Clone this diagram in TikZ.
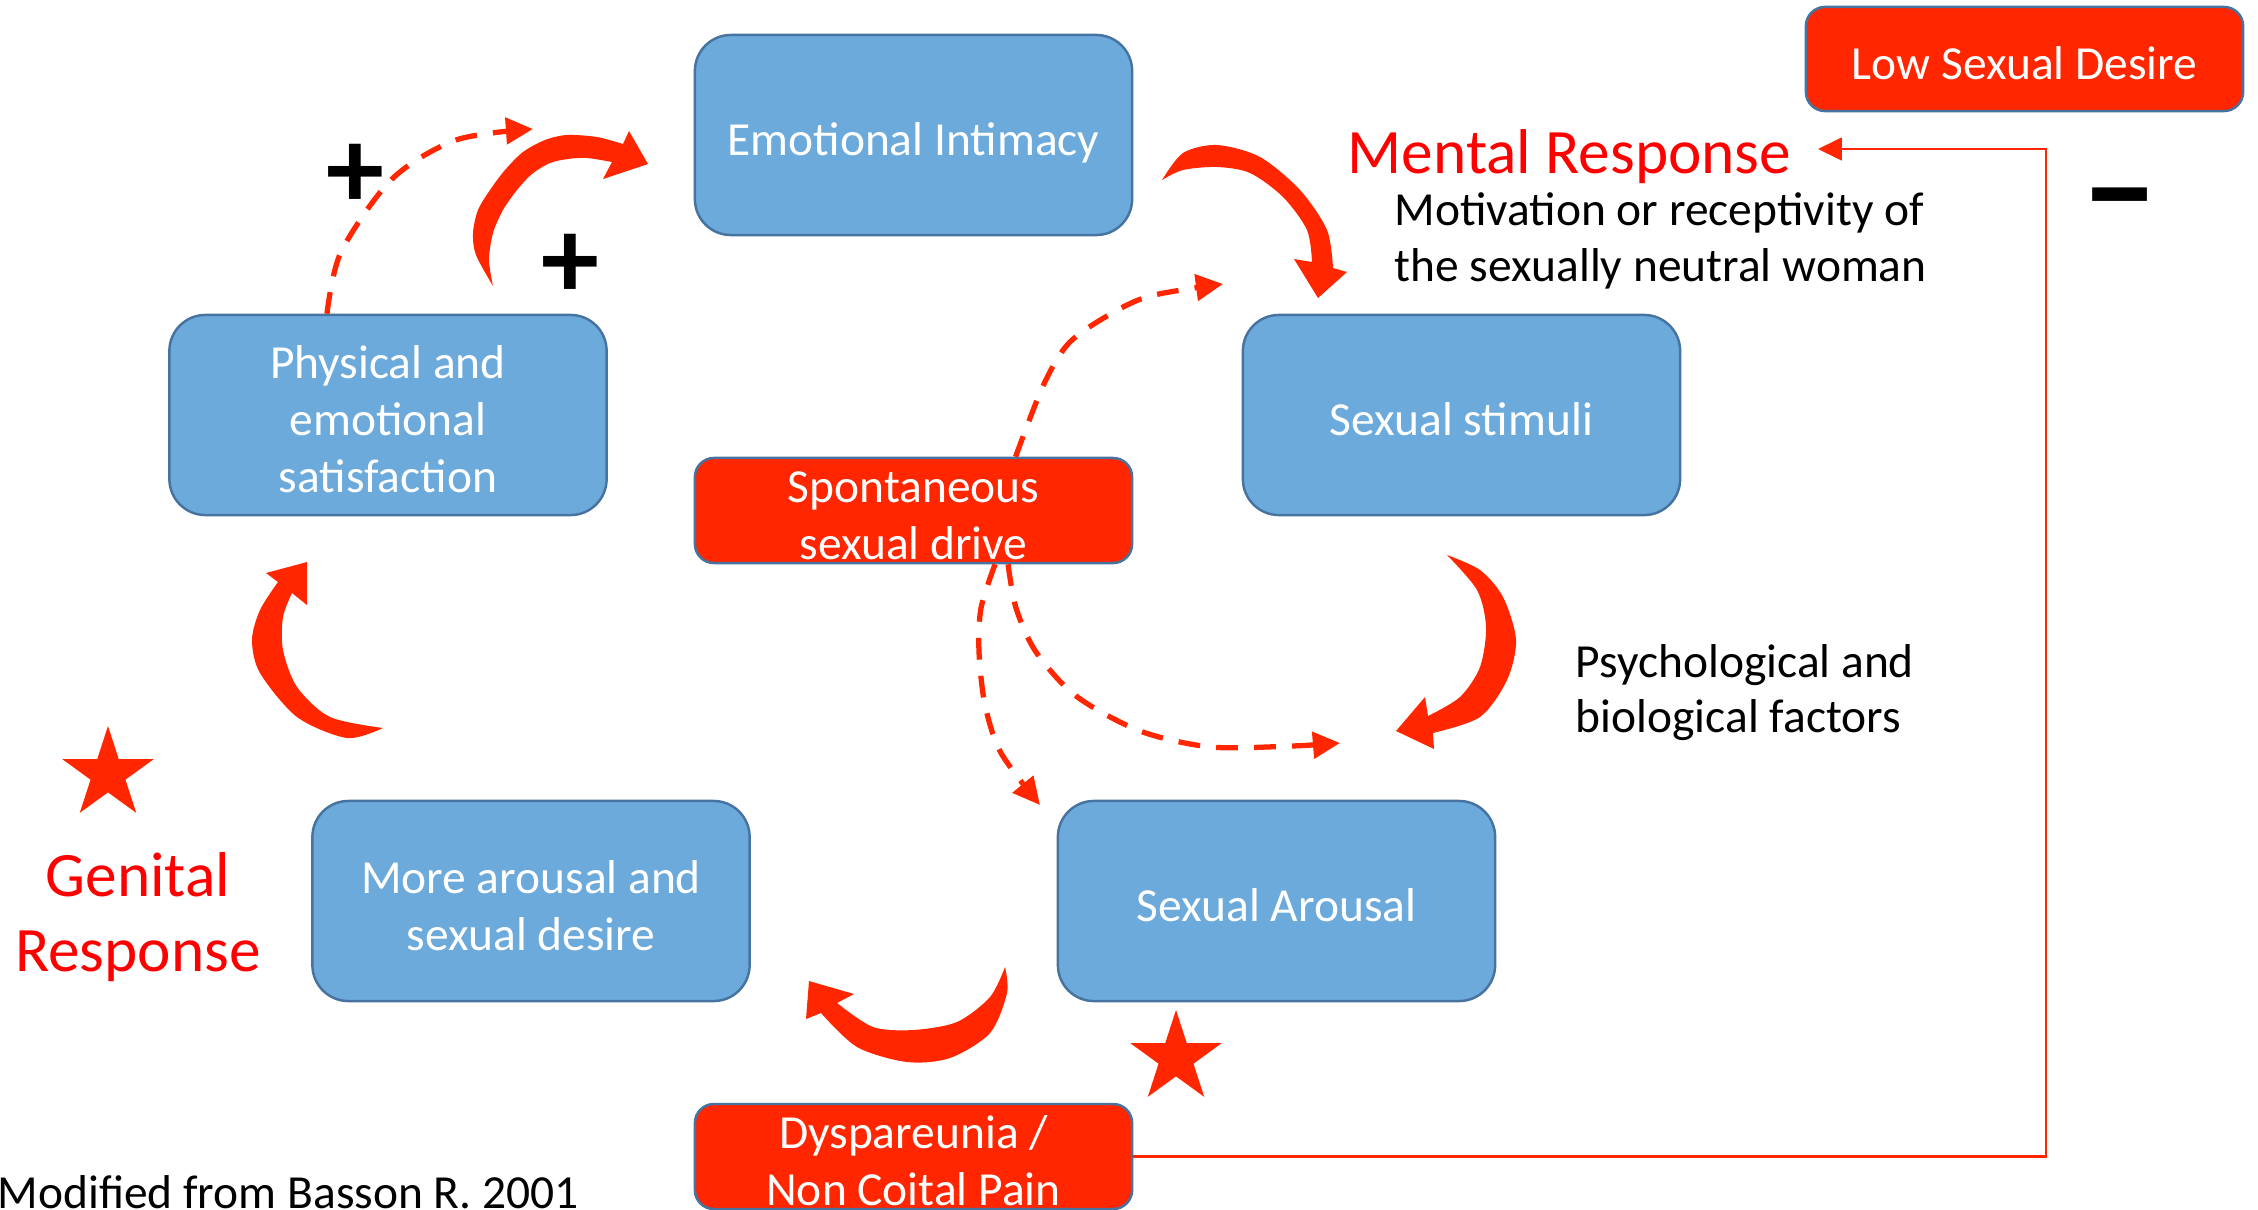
\documentclass[tikz,border=0pt]{standalone}
\usepackage{fontspec}
\setmainfont{Carlito}
\usetikzlibrary{arrows.meta,shapes.geometric}
\definecolor{boxblue}{RGB}{108,170,220}
\definecolor{boxedge}{RGB}{70,115,160}
\definecolor{arrred}{RGB}{255,38,0}
\definecolor{txtred}{RGB}{255,0,0}
\newcommand\mystrut{\rule[-2.1pt]{0pt}{16pt}}
\begin{document}
\begin{tikzpicture}[x=0.01cm,y=-0.01cm,
  bluebox/.style={draw=boxedge,line width=0.7pt,fill=boxblue,rounded corners=0.36cm,
    minimum width=4.37cm,minimum height=2cm,text=white,align=center,
    font=\fontsize{13.5}{16.2}\selectfont,inner sep=0pt},
  redbox/.style={bluebox,fill=arrred,rounded corners=0.19cm,minimum height=1.05cm},
  boxlabel/.style={text=white,align=center,font=\fontsize{13.5}{16.2}\selectfont,inner sep=0pt},
  bigarrow/.style={fill=arrred},
  dasharrow/.style={draw=arrred,line width=1.5pt,dash pattern=on 6.2pt off 4.6pt,
    -{Triangle[length=7.7pt,width=7.4pt]}},
  thinarrow/.style={draw=arrred,line width=0.6pt,-{Triangle[length=6.8pt,width=6.5pt]}},
  plaintext/.style={inner sep=0pt,font=\fontsize{13.5}{15.7}\selectfont},
  redtext/.style={inner sep=0pt,text=txtred,font=\fontsize{18}{21.3}\selectfont},
  sign/.style={inner sep=0pt,font=\fontsize{33}{33}\selectfont\bfseries},
  redstar/.style={star,star points=5,star point ratio=2.618,fill=arrred,inner sep=0pt,minimum size=0.96cm}
]
\useasboundingbox (0,0) rectangle (2258,1209);

% boxes
\node[bluebox] (emo)  at (913.5,135)  {\mystrut Emotional Intimacy};
\node[bluebox] (stim) at (1461.5,415) {\mystrut Sexual stimuli};
\node[bluebox] (arou) at (1276.5,901) {\mystrut Sexual Arousal};
\node[bluebox] (more) at (531,901)    {\mystrut More arousal and\\sexual desire\mystrut};
\node[bluebox] (phys) at (388,415)    {\mystrut Physical and\\emotional\\satisfaction\mystrut};
\node[redbox,label={[boxlabel]center:{\mystrut Spontaneous\\sexual drive\mystrut}}] (spon) at (913.5,510.5) {};
\node[redbox,label={[boxlabel]center:{\mystrut Dyspareunia /\\Non Coital Pain\mystrut}}] (dysp) at (913.5,1156.5) {};
\node[redbox,minimum height=1.04cm] (low) at (2024.5,59) {\mystrut Low Sexual Desire};

% texts
\node[redtext,anchor=base west] (mental) at (1347,173.5) {Mental Response};
\node[plaintext,anchor=base west,align=left] (motiv) at (1394,281) {Motivation or receptivity of\\the sexually neutral woman};
\node[plaintext,anchor=base west,align=left] (psych) at (1575,732.5) {Psychological and\\biological factors};
\node[redtext,anchor=base,align=center] (genital) at (138,971.5) {Genital\\Response};
\node[plaintext,anchor=base west] (basson) at (-3,1208) {Modified from Basson R. 2001};

% signs
\node[sign] (plus1) at (355,176) {+};
\node[sign] (plus2) at (570.5,266) {+};
\node[sign,font=\fontsize{44}{44}\selectfont\bfseries] (minus) at (2120,213) {–};

% stars
\node[redstar] (star1) at (108,774) {};
\node[redstar] (star2) at (1176,1058) {};

% big curved arrows
\fill[bigarrow] plot[smooth] coordinates {(493,286) (476,255) (473,233) (478,210) (490,190) (505,170) (523,152) (545,140) (567,135) (597,137) (623,144)}
  -- (629,131) -- (648,164) -- (603,179) -- (612,162)
  -- plot[smooth] coordinates {(612,162) (587,158) (568,159) (550,163) (532,174) (517,190) (503,210) (493,233) (489,260) (493,286)} -- cycle;
\fill[bigarrow] plot[smooth] coordinates {(1162,180) (1183,153) (1217,145) (1260,157) (1300,190) (1327,230) (1333,268)}
  -- (1347,272) -- (1318,298) -- (1294,259) -- (1312,262)
  -- plot[smooth] coordinates {(1312,262) (1307,230) (1283,197) (1250,173) (1217,167) (1183,170) (1162,180)} -- cycle;
\fill[bigarrow] plot[smooth] coordinates {(1447,555) (1480,570) (1503,597) (1516,640) (1507,680) (1480,717) (1433,733)}
  -- (1434,749) -- (1396,731) -- (1425,697) -- (1428,716)
  -- plot[smooth] coordinates {(1428,716) (1460,697) (1480,667) (1486,627) (1477,590) (1447,555)} -- cycle;
\fill[bigarrow] plot[smooth] coordinates {(1005,967) (1007,993) (990,1033) (950,1058) (907,1062) (857,1047) (821,1013)}
  -- (806,1019) -- (809,981) -- (854,994) -- (837,1003)
  -- plot[smooth] coordinates {(837,1003) (873,1027) (913,1030) (957,1022) (990,997) (1005,967)} -- cycle;
\fill[bigarrow] plot[smooth] coordinates {(383,728) (347,738) (297,717) (260,673) (252,640) (260,610) (278,582)}
  -- (266,573) -- (307,562) -- (307,605) -- (292,593)
  -- plot[smooth] coordinates {(292,593) (283,617) (283,650) (297,687) (330,717) (383,728)} -- cycle;

% dashed connectors
\coordinate (t1) at (533,129);
\coordinate (t2) at (1223,284);
\coordinate (t3) at (1340,743);
\coordinate (t4) at (1040,805);
\draw[dasharrow] plot[smooth] coordinates {([xshift=-0.61cm]phys.north) (341,252) (392,179) (456,140) (t1)};
\draw[dasharrow] plot[smooth] coordinates {([xshift=1.02cm]spon.north) (1043,386) (1068,344) (1107,316) (1150,296) (t2)};
\draw[dasharrow] plot[smooth] coordinates {([xshift=0.945cm]spon.south) (1016,608) (1036,652) (1076,696) (1140,731) (1211,747) (1292,746) (t3)};
\draw[dasharrow] plot[smooth] coordinates {([xshift=0.815cm]spon.south) (981,608) (979,652) (985,705) (1001,753) (t4)};

% feedback line
\coordinate (mrtip) at (1818,149);
\draw[thinarrow] (dysp.east) -| (2046,149) -- (mrtip);
\end{tikzpicture}
\end{document}
